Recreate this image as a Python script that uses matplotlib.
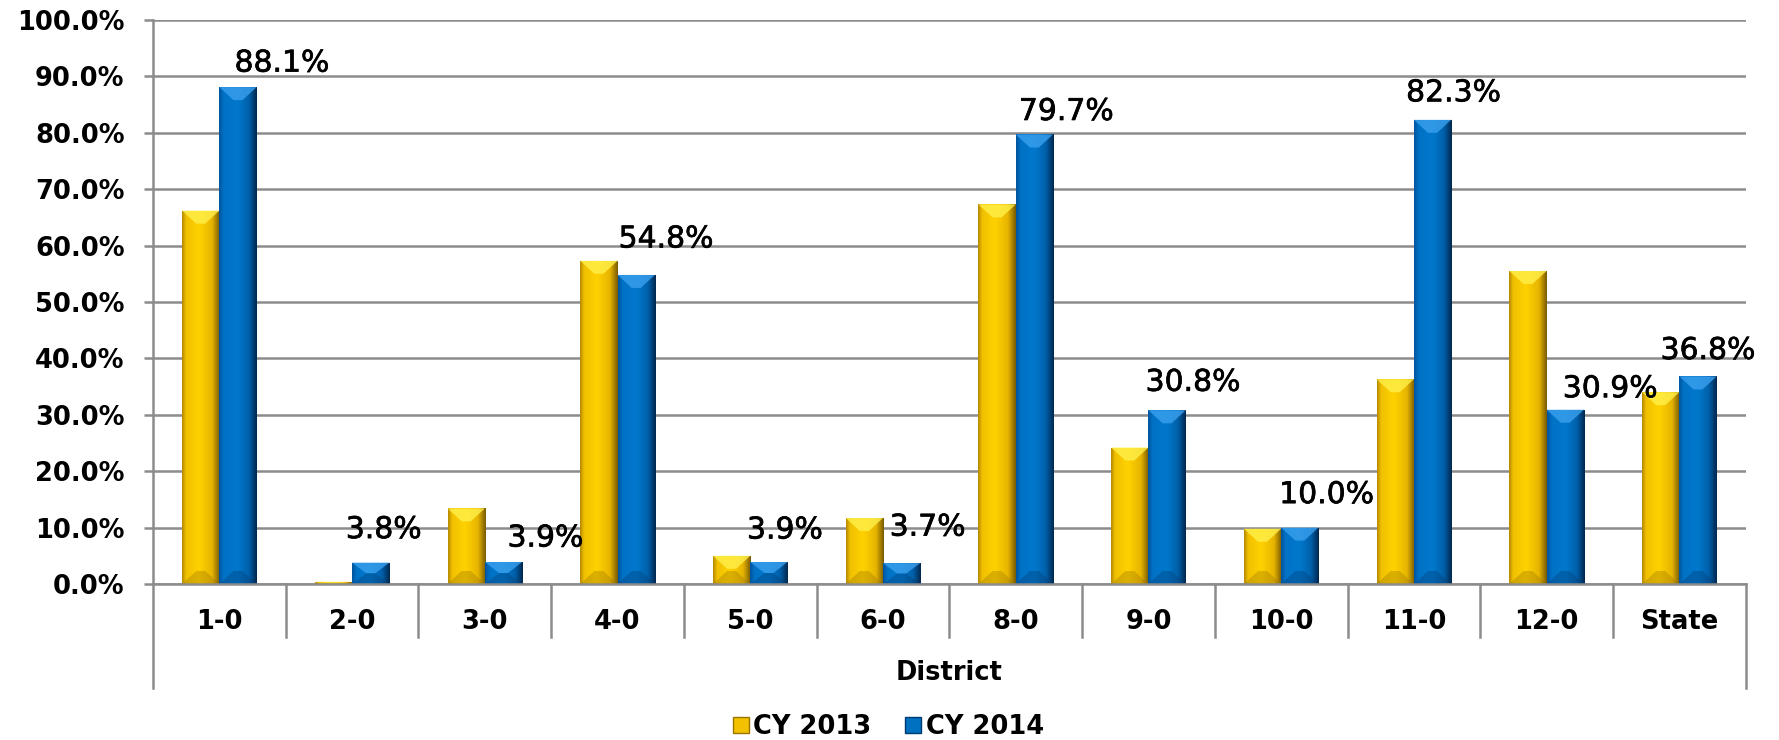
import numpy as np
import matplotlib
matplotlib.use("Agg")
import matplotlib.pyplot as plt
import matplotlib.patheffects as pe
from matplotlib.colors import LinearSegmentedColormap
from matplotlib.patches import Polygon
from matplotlib.lines import Line2D

# ----- datos -----
districts = ["1-0", "2-0", "3-0", "4-0", "5-0", "6-0", "8-0", "9-0", "10-0", "11-0", "12-0", "State"]
cy2013 = [66.2, 0.4, 13.4, 57.3, 5.0, 11.7, 67.3, 24.2, 9.8, 36.3, 55.5, 34.0]
cy2014 = [88.1, 3.8, 3.9, 54.8, 3.9, 3.7, 79.7, 30.8, 10.0, 82.3, 30.9, 36.8]
yticks = np.arange(0, 101, 10)

# desplazamiento de etiquetas (pixeles) respecto al tope de la barra azul
lab_off = [(44, 24), (13, 33), (42, 24), (30, 36), (16, 32), (26, 36),
           (32, 23), (26, 28), (27, 33), (21, 27), (45, 21), (10, 26)]

grid_c = "#8c8c8c"
fs = 18.5

# gradientes horizontales tipo "bisel"
yel_cmap = LinearSegmentedColormap.from_list("yel", [(0, "#b58a00"), (0.1, "#f0c000"), (0.45, "#ffd200"),
                                                     (0.8, "#e6b400"), (1, "#7a5c00")])
blu_cmap = LinearSegmentedColormap.from_list("blu", [(0, "#00559e"), (0.12, "#0072c6"), (0.5, "#0078cc"),
                                                     (0.8, "#005fa8"), (1, "#00284f")])

fig = plt.figure(figsize=(17.79, 7.40), dpi=100)
ax = fig.add_axes([153 / 1779, 156 / 740, (1745.7 - 153) / 1779, 564 / 740])

x = np.arange(len(districts))
w = 0.281
b1 = ax.bar(x - w / 2, cy2013, w, color="#ffcc00", zorder=3)
b2 = ax.bar(x + w / 2, cy2014, w, color="#0070c0", zorder=3)

grad = np.linspace(0, 1, 64).reshape(1, -1)
px_per_unit = 5.64  # pixeles por punto porcentual
for bars, cmap, top_c, bot_c in [(b1, yel_cmap, "#fff04a", "#9a7400"), (b2, blu_cmap, "#3aa0ee", "#003a70")]:
    for p in bars:
        x0, y0 = p.get_x(), p.get_y()
        bw, h = p.get_width(), p.get_height()
        im = ax.imshow(grad, cmap=cmap, extent=[x0, x0 + bw, y0, y0 + h], aspect="auto", zorder=4,
                       interpolation="bicubic")
        im.set_clip_path(p)
        d = min(13 / px_per_unit, h / 2)
        top = y0 + h
        ax.add_patch(Polygon([[x0, top], [x0 + bw, top], [x0 + bw * 0.62, top - d], [x0 + bw * 0.38, top - d]],
                             closed=True, facecolor=top_c, edgecolor="none", alpha=0.8, zorder=5))
        ax.add_patch(Polygon([[x0, y0], [x0 + bw, y0], [x0 + bw * 0.62, y0 + d], [x0 + bw * 0.38, y0 + d]],
                             closed=True, facecolor=bot_c, edgecolor="none", alpha=0.35, zorder=5))

ax.set_xlim(-0.5, len(districts) - 0.5)
ax.set_ylim(0, 100)

# etiquetas de CY 2014
for p, v, (dx, dy) in zip(b2, cy2014, lab_off):
    t = ax.annotate(f"{v:.1f}%", (p.get_x() + p.get_width() / 2, p.get_height()),
                    xytext=(dx / 1.389, dy / 1.389), textcoords="offset points",
                    ha="center", va="center", fontsize=21.5, color="black", zorder=6)
    t.set_path_effects([pe.withStroke(linewidth=0.5, foreground="black")])

# ejes
for s in ["top", "right", "bottom"]:
    ax.spines[s].set_visible(False)
ax.spines["left"].set_color(grid_c)
ax.spines["left"].set_linewidth(1.8)
ax.set_yticks(yticks)
ax.set_yticklabels([f"{t:.1f}%" for t in yticks], fontsize=fs, fontweight="bold")
ax.tick_params(axis="y", length=6.5, width=1.8, color=grid_c, pad=14)
ax.yaxis.grid(True, color=grid_c, linewidth=1.8, zorder=0)
ax.set_axisbelow(True)

ax.set_xticks(x)
ax.set_xticklabels(districts, fontsize=fs, fontweight="bold")
ax.tick_params(axis="x", length=0, pad=18)

# linea base y separadores de categoria
trans = ax.get_xaxis_transform()
ax.plot([-0.5, len(districts) - 0.5], [0, 0], color=grid_c, lw=1.8, transform=trans, clip_on=False, zorder=6)
for k in range(len(districts) + 1):
    bottom = -0.184 if k in (0, len(districts)) else -0.094
    ax.plot([k - 0.5, k - 0.5], [0, bottom], color=grid_c, lw=1.8, transform=trans, clip_on=False)

ax.text(0.5, -0.158, "District", transform=ax.transAxes, ha="center", va="center",
        fontsize=fs, fontweight="bold")

handles = [Line2D([], [], marker="s", linestyle="none", markersize=11, markerfacecolor="#f2c200",
                  markeredgecolor="#9a7400"),
           Line2D([], [], marker="s", linestyle="none", markersize=11, markerfacecolor="#0070c0",
                  markeredgecolor="#003a70")]
fig.legend(handles, ["CY 2013", "CY 2014"], loc="center", bbox_to_anchor=(887 / 1779, 1 - 727 / 740),
           ncol=2, frameon=False, prop={"size": fs, "weight": "bold"}, handletextpad=0.1,
           columnspacing=1.2, handlelength=0.8)

fig.savefig("out.png", dpi=100)
